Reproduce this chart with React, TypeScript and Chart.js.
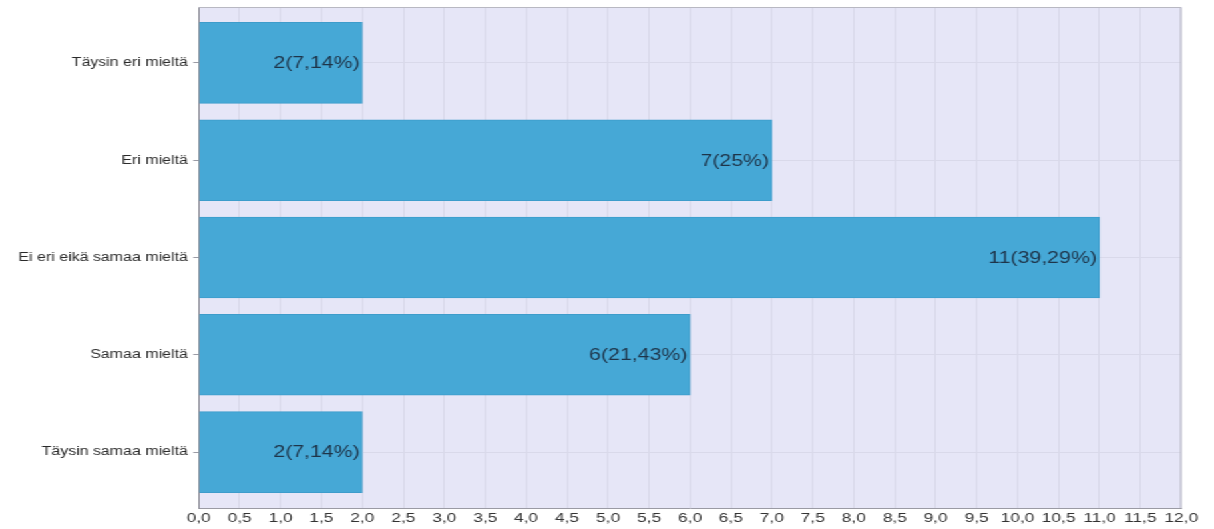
import React, { useEffect, useRef } from "react";
import { Chart, registerables } from "chart.js";

Chart.register(...registerables);

// Survey answers (Likert scale) and how many respondents chose each.
const categories = [
  "Täysin eri mieltä",
  "Eri mieltä",
  "Ei eri eikä samaa mieltä",
  "Samaa mieltä",
  "Täysin samaa mieltä",
];
const counts = [2, 7, 11, 6, 2];

// Value axis range and step.
const xMin = 0;
const xMax = 12;
const xStep = 0.5;

// The chart is laid out on a narrower canvas and widened horizontally.
const CANVAS_W = 912;
const CANVAS_H = 529;
const DISPLAY_W = 1214;

const FONT = "'Liberation Sans', Arial, Helvetica, sans-serif";
const PLOT_BG = "#e6e6f7";
const BAR_COLOR = "#46a8d6";
const GRID_COLOR = "#d9d9ea";
const FRAME_COLOR = "#b8b8c2";

const total = counts.reduce((a, b) => a + b, 0);
const decimalComma = (n: number) => String(n).replace(".", ",");
const pctText = (v: number) => decimalComma(Math.round((v / total) * 10000) / 100) + "%";

const plotFrame = {
  id: "plotFrame",
  beforeDraw(chart: any) {
    const { ctx, chartArea } = chart;
    const { left, top, right, bottom } = chartArea;
    ctx.save();
    ctx.fillStyle = PLOT_BG;
    ctx.fillRect(left, top, right - left, bottom - top);
    ctx.restore();
  },
  afterDatasetsDraw(chart: any) {
    const { ctx } = chart;
    const meta = chart.getDatasetMeta(0);
    ctx.save();
    ctx.font = `16px ${FONT}`;
    ctx.fillStyle = "#1e3449";
    ctx.textAlign = "right";
    ctx.textBaseline = "middle";
    meta.data.forEach((bar: any, i: number) => {
      const v = counts[i];
      ctx.fillText(`${v}(${pctText(v)})`, bar.x - 2, bar.y + 1);
    });
    ctx.restore();
  },
  afterDraw(chart: any) {
    const { ctx, chartArea } = chart;
    const { left, top, right, bottom } = chartArea;
    ctx.save();
    ctx.strokeStyle = FRAME_COLOR;
    ctx.lineWidth = 1;
    ctx.beginPath();
    ctx.moveTo(left, top + 0.5);
    ctx.lineTo(right - 0.5, top + 0.5);
    ctx.lineTo(right - 0.5, bottom);
    ctx.stroke();
    ctx.restore();
  },
};

export default function App() {
  const canvasRef = useRef<HTMLCanvasElement | null>(null);

  useEffect(() => {
    if (!canvasRef.current) return;
    const chart = new Chart(canvasRef.current, {
      type: "bar",
      data: {
        datasets: [
          {
            data: counts.map((v, i) => ({ x: v, y: i })),
            backgroundColor: BAR_COLOR,
            borderColor: "#3d9ccb",
            borderWidth: 1,
            barThickness: 81,
          },
        ],
      },
      options: {
        indexAxis: "y",
        responsive: false,
        animation: false,
        events: [],
        layout: { padding: { left: 0, right: 24.5, top: 7, bottom: 0 } },
        plugins: {
          legend: { display: false },
          tooltip: { enabled: false },
          title: { display: false },
        },
        scales: {
          x: {
            type: "linear",
            position: "bottom",
            min: xMin,
            max: xMax,
            afterFit(scale: any) {
              scale.height = 21;
            },
            ticks: {
              stepSize: xStep,
              autoSkip: false,
              maxRotation: 0,
              padding: 3,
              color: "#333333",
              font: { family: FONT, size: 13 },
              callback: (v: any) => Number(v).toFixed(1).replace(".", ","),
            },
            grid: { color: GRID_COLOR, drawTicks: false },
            border: { display: true, color: "#9a9aa4" },
          },
          y: {
            type: "linear",
            position: "left",
            reverse: true,
            offset: false,
            min: -0.575,
            max: categories.length - 1 + 0.575,
            afterFit(scale: any) {
              scale.width = 149.2;
              scale.paddingTop = 0;
              scale.paddingBottom = 0;
            },
            ticks: {
              stepSize: 1,
              includeBounds: false,
              autoSkip: false,
              padding: 4,
              color: "#2a2a2a",
              font: { family: FONT, size: 12 },
              callback: (v: any) => categories[v] ?? "",
            },
            grid: { offset: false, color: GRID_COLOR, tickColor: "#9a9aa4", tickLength: 4 },
            border: { display: true, color: "#8e8e98" },
          },
        },
      },
      plugins: [plotFrame],
    } as any);
    return () => chart.destroy();
  }, []);

  return (
    <div
      style={{
        position: "fixed",
        left: 0,
        top: 0,
        width: CANVAS_W,
        height: CANVAS_H,
        background: "#ffffff",
        transform: `scaleX(${DISPLAY_W / CANVAS_W})`,
        transformOrigin: "0 0",
      }}
    >
      <canvas ref={canvasRef} width={CANVAS_W} height={CANVAS_H} style={{ display: "block" }} />
    </div>
  );
}
